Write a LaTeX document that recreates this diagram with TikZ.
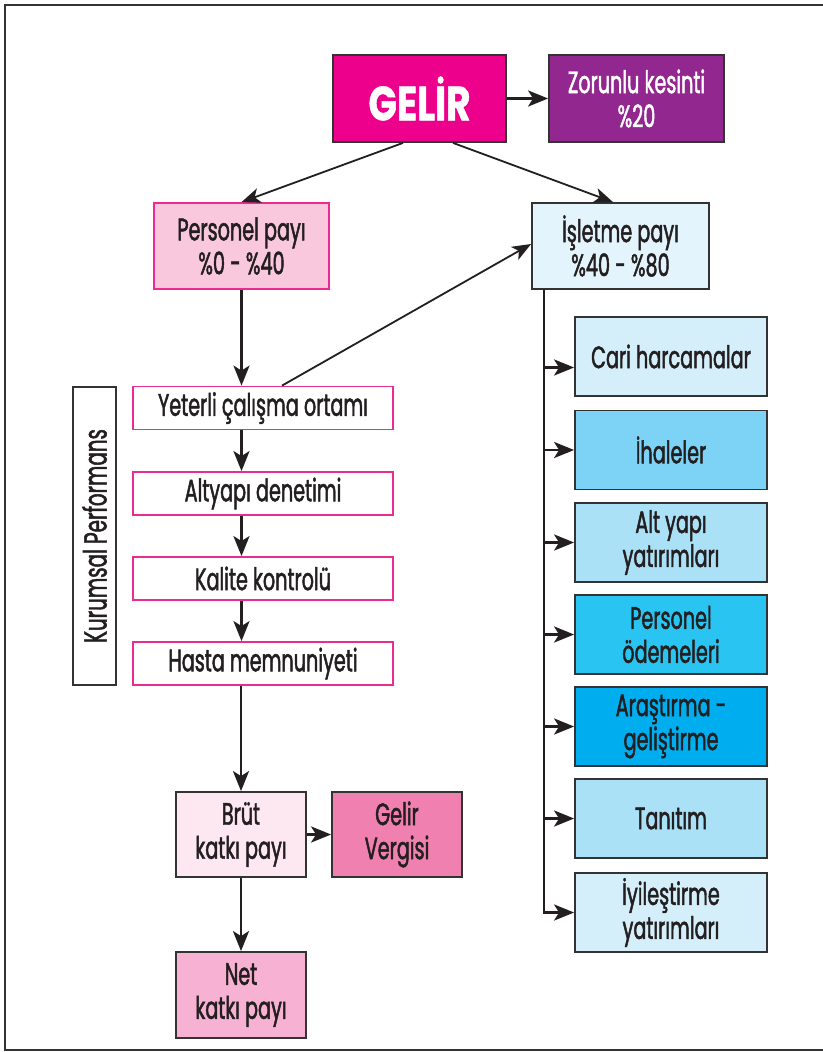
\documentclass[tikz,border=0pt]{standalone}
\usepackage{fontspec}
\setmainfont[FakeStretch=0.62, FakeBold=1.5]{Poppins}
\newfontfamily\gelirfont[FakeStretch=0.78, FakeBold=1]{Poppins}
\usetikzlibrary{arrows.meta}
\definecolor{txt}{HTML}{231F20}
\definecolor{mag}{HTML}{EC008C}
\definecolor{purp}{HTML}{92278F}
\definecolor{pinkA}{HTML}{F9C8DD}
\definecolor{pinkB}{HTML}{FDE8F1}
\definecolor{pinkC}{HTML}{F080B0}
\definecolor{pinkD}{HTML}{F7B1D2}
\definecolor{pinkedge}{HTML}{ED2A91}
\definecolor{edge}{HTML}{333333}
\definecolor{blueA}{HTML}{E3F4FC}
\definecolor{blueB}{HTML}{D4EEFA}
\definecolor{blueC}{HTML}{7DD3F5}
\definecolor{blueD}{HTML}{ABE1F7}
\definecolor{blueE}{HTML}{29C4F2}
\definecolor{blueF}{HTML}{00AEEF}
\tikzset{
  box/.style={draw=edge, line width=1.8pt, inner sep=0pt, align=center, text=txt,
    font=\fontsize{31}{34}\selectfont},
  pbox/.style={box, draw=pinkedge},
  lbox/.style={pbox, fill=white, minimum width=260pt, minimum height=43pt},
  rbox/.style={box, minimum width=192pt, minimum height=79pt},
  arr/.style={line width=2.8pt, draw=txt, -{Stealth[length=20pt,width=16pt,inset=5pt]}},
  thin/.style={line width=1.8pt, draw=txt, -{Stealth[length=19pt,width=15pt,inset=5pt]}},
}
\begin{document}
\begin{tikzpicture}[x=1pt,y=-1pt]
\useasboundingbox (0,0) rectangle (822,1052);
\fill[white] (0,0) rectangle (822,1052);
\draw[edge, line width=2.4pt] (830,5) -- (5,5) -- (5,1050) -- (830,1050);

\node[box, fill=mag, text=white, minimum width=173pt, minimum height=87pt, font=\gelirfont\fontsize{48}{52}\selectfont\bfseries] (gelir) at (419.5,98.5) {GELİR};
\node[box, fill=purp, text=white, minimum width=175pt, minimum height=87pt] (zor) at (636.5,98.5) {Zorunlu kesinti\\\%20};
\node[pbox, fill=pinkA, minimum width=175pt, minimum height=86pt] (pers) at (241.5,246) {Personel payı\\\%0 - \%40};
\node[box, fill=blueA, minimum width=177pt, minimum height=86pt] (isl) at (620.5,246) {İşletme payı\\\%40 - \%80};

\node[lbox] (yet) at (263,408) {Yeterli çalışma ortamı};
\node[lbox] (alt) at (263,493.5) {Altyapı denetimi};
\node[lbox] (kal) at (263,578.5) {Kalite kontrolü};
\node[lbox] (has) at (263,663.5) {Hasta memnuniyeti};
\node[box, fill=white, minimum width=43pt, minimum height=298pt] (kur) at (94.5,536) {};
\node[text=txt, rotate=90, font=\fontsize{32}{34}\selectfont] (kurt) at (kur.center) {Kurumsal Performans};

\node[rbox, fill=blueB] (cari) at (671,356.5) {Cari harcamalar};
\node[rbox, fill=blueC] (iha) at (671,450) {İhaleler};
\node[rbox, fill=blueD] (aly) at (671,542.5) {Alt yapı\\yatırımları};
\node[rbox, fill=blueE] (pod) at (671,634.5) {Personel\\ödemeleri};
\node[rbox, fill=blueF] (ars) at (671,726.5) {Araştırma -\\geliştirme};
\node[rbox, fill=blueD] (tan) at (671,818.5) {Tanıtım};
\node[rbox, fill=blueB] (iyi) at (671,912.5) {İyileştirme\\yatırımları};

\node[box, fill=pinkB, minimum width=130pt, minimum height=85pt] (brut) at (241,834.5) {Brüt\\katkı payı};
\node[box, fill=pinkC, minimum width=130pt, minimum height=85pt] (gv) at (397,834.5) {Gelir\\Vergisi};
\node[box, fill=pinkD, minimum width=130pt, minimum height=86pt] (net) at (241,995) {Net\\katkı payı};

\draw[arr] (gelir.east) -- (zor.west);
\draw[thin] ([xshift=-16.5pt]gelir.south) -- (pers.north);
\draw[thin] ([xshift=33.5pt]gelir.south) -- ([xshift=-7.5pt]isl.north);
\draw[arr] (pers.south) -- (pers.south |- yet.north);
\draw[thin] ([xshift=19pt]yet.north) -- ([yshift=2pt]isl.west);
\draw[arr] (pers.south |- yet.south) -- (pers.south |- alt.north);
\draw[arr] (pers.south |- alt.south) -- (pers.south |- kal.north);
\draw[arr] (pers.south |- kal.south) -- (pers.south |- has.north);
\draw[arr] (brut.north |- has.south) -- (brut.north);
\draw[arr] (brut.east) -- (gv.west);
\draw[arr] (brut.south) -- (net.north);

\coordinate (bt) at (544,289);
\draw[line width=2.8pt, draw=txt] (bt) -- (bt |- iyi.west);
\draw[arr] ([yshift=-11pt]cari.west -| bt) -- ([yshift=-11pt]cari.west);
\draw[arr] (iha.west -| bt) -- (iha.west);
\draw[arr] (aly.west -| bt) -- (aly.west);
\draw[arr] (pod.west -| bt) -- (pod.west);
\draw[arr] (ars.west -| bt) -- (ars.west);
\draw[arr] (tan.west -| bt) -- (tan.west);
\draw[arr] (bt) |- (iyi.west);
\end{tikzpicture}
\end{document}
